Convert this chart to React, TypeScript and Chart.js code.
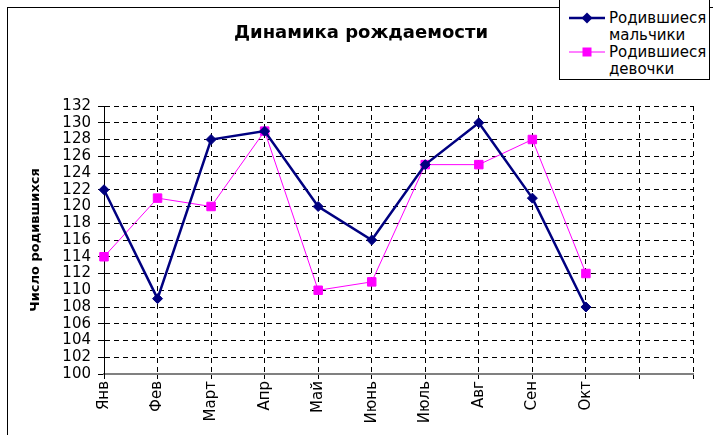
import React, { useEffect, useRef } from 'react';
import { Chart, registerables } from 'chart.js';

Chart.register(...registerables);

const months = ['Янв', 'Фев', 'Март', 'Апр', 'Май', 'Июнь', 'Июль', 'Авг', 'Сен', 'Окт', '', ''];
const boys = [122, 109, 128, 129, 120, 116, 125, 130, 121, 108, null, null];
const girls = [114, 121, 120, 129, 110, 111, 125, 125, 128, 112, null, null];
const yMin = 100;
const yMax = 132;
const yStep = 2;
const titleText = 'Динамика рождаемости';
const yTitle = 'Число родившихся';
const boysName = ['Родившиеся', 'мальчики'];
const girlsName = ['Родившиеся', 'девочки'];

const BOYS_COLOR = '#000080';
const GIRLS_COLOR = '#FF00FF';
const FONT = '"DejaVu Sans", Arial, sans-serif';

export default function App() {
  const ref = useRef<HTMLCanvasElement>(null);

  useEffect(() => {
    document.body.style.margin = '0';
    Chart.defaults.font.family = FONT;
    const chart = new Chart(ref.current as HTMLCanvasElement, {
      type: 'line',
      data: {
        labels: months,
        datasets: [
          {
            label: boysName.join(' '),
            data: boys,
            borderColor: BOYS_COLOR,
            backgroundColor: BOYS_COLOR,
            borderWidth: 2.5,
            pointStyle: 'rectRot',
            pointRadius: 5,
            pointBorderWidth: 1,
            tension: 0,
          },
          {
            label: girlsName.join(' '),
            data: girls,
            borderColor: GIRLS_COLOR,
            backgroundColor: GIRLS_COLOR,
            borderWidth: 1,
            pointStyle: 'rect',
            pointRadius: 6,
            pointBorderWidth: 1,
            tension: 0,
          },
        ],
      },
      options: {
        responsive: false,
        animation: false,
        layout: { padding: { top: 106, right: 20, left: 0, bottom: 0 } },
        plugins: {
          legend: { display: false },
          title: { display: false },
          tooltip: { enabled: false },
        },
        scales: {
          x: {
            afterFit: (s: any) => {
              s.height = 61;
            },
            grid: {
              color: (ctx: any) => (ctx.index === 0 ? 'rgba(0,0,0,0)' : '#000'),
              lineWidth: 1,
              tickLength: 5,
              tickColor: '#000',
            },
            border: { color: '#808080', width: 2, dash: [5, 4] },
            ticks: {
              autoSkip: false,
              minRotation: 90,
              maxRotation: 90,
              padding: 2,
              color: '#000',
              font: { size: 15 },
            },
          },
          y: {
            min: yMin,
            max: yMax,
            afterFit: (s: any) => {
              s.width = 104;
            },
            grid: {
              color: (ctx: any) => (ctx.tick && ctx.tick.value === yMin ? 'rgba(0,0,0,0)' : '#000'),
              lineWidth: 1,
              tickLength: 6,
              tickColor: '#000',
            },
            border: { color: '#000', width: 1, dash: [5, 4] },
            ticks: {
              stepSize: yStep,
              autoSkip: false,
              maxTicksLimit: 40,
              padding: 7,
              color: '#000',
              font: { size: 15, lineHeight: 0.9 },
            },
            title: {
              display: true,
              text: yTitle,
              color: '#000',
              font: { size: 13, weight: 'bold' },
              padding: { top: 28, bottom: 0 },
            },
          },
        },
      },
    } as any);
    return () => chart.destroy();
  }, []);

  const legendText: React.CSSProperties = {
    position: 'absolute',
    left: 49,
    font: `15px ${FONT}`,
    lineHeight: '17px',
    color: '#000',
    whiteSpace: 'nowrap',
  };

  return (
    <div style={{ position: 'relative', width: 713, height: 435, overflow: 'hidden', background: '#fff' }}>
      <div
        style={{
          position: 'absolute',
          left: 7,
          top: 7,
          width: 720,
          height: 440,
          borderLeft: '1px solid #000',
          borderTop: '1px solid #000',
        }}
      />
      <canvas ref={ref} width={713} height={435} style={{ position: 'absolute', left: 0, top: 0 }} />
      <div
        style={{
          position: 'absolute',
          left: 200,
          width: 322,
          top: 21,
          textAlign: 'center',
          font: `bold 18px ${FONT}`,
          lineHeight: '22px',
          color: '#000',
        }}
      >
        {titleText}
      </div>
      <div
        style={{
          position: 'absolute',
          left: 559,
          top: -1,
          width: 151,
          height: 81,
          border: '1px solid #000',
          background: '#fff',
          boxSizing: 'border-box',
        }}
      >
        <svg style={{ position: 'absolute', left: 9, top: 12 }} width={36} height={12}>
          <line x1={0} y1={6} x2={36} y2={6} stroke={BOYS_COLOR} strokeWidth={2.5} />
          <polygon points="18,0.5 23.5,6 18,11.5 12.5,6" fill={BOYS_COLOR} />
        </svg>
        <div style={{ ...legendText, top: 10 }}>
          {boysName[0]}
          <br />
          {boysName[1]}
        </div>
        <svg style={{ position: 'absolute', left: 9, top: 46 }} width={36} height={12}>
          <line x1={0} y1={6} x2={36} y2={6} stroke={GIRLS_COLOR} strokeWidth={1} />
          <rect x={13.5} y={1.5} width={9} height={9} fill={GIRLS_COLOR} />
        </svg>
        <div style={{ ...legendText, top: 44 }}>
          {girlsName[0]}
          <br />
          {girlsName[1]}
        </div>
      </div>
    </div>
  );
}
